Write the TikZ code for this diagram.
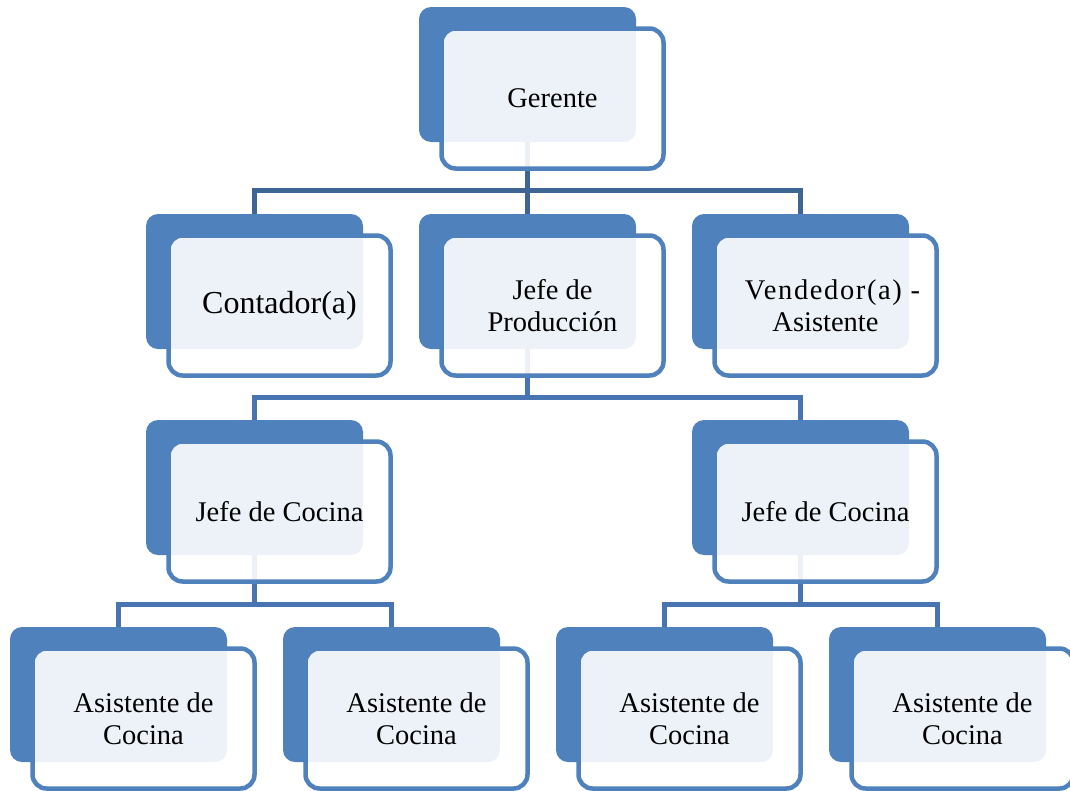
\documentclass[tikz,border=0pt]{standalone}
\usepackage{fontspec}
\setmainfont{Liberation Serif}
\usepackage{tikz}

\definecolor{boxblue}{HTML}{4F81BD}
\definecolor{linedark}{HTML}{3E6694}
\definecolor{lineblue}{HTML}{4875B1}

\begin{document}
\begin{tikzpicture}[x=1pt,y=-1pt]
  \tikzset{BackStyle/.style = {
    shape          = rectangle,
    draw           = none,
    fill           = boxblue,
    rounded corners = 12pt,
    minimum width  = 217pt,
    minimum height = 135pt,
    inner sep      = 0pt,
    outer sep      = 0pt
    }
  }
  \tikzset{FrontStyle/.style = {
    shape          = rectangle,
    draw           = boxblue,
    line width     = 4.5pt,
    fill           = white,
    fill opacity   = 0.9,
    text opacity   = 1,
    text           = black,
    rounded corners = 14pt,
    minimum width  = 222pt,
    minimum height = 140pt,
    inner sep      = 0pt,
    outer sep      = 0pt,
    align          = center,
    font           = \fontsize{28.5}{31.5}\selectfont
    }
  }
  \tikzset{EdgeStyle/.style = {
    draw           = lineblue,
    line width     = 5pt
    }
  }
  \tikzset{TopEdgeStyle/.style = {
    EdgeStyle,
    draw           = linedark
    }
  }

  \useasboundingbox (0,0) rectangle (1070,790);

	\node[BackStyle](A1) at (527.5, 74.5) {};
	\node[BackStyle](B1) at (254.5, 281.5) {};
	\node[BackStyle](B2) at (527.5, 281.5) {};
	\node[BackStyle](B3) at (800.5, 281.5) {};
	\node[BackStyle](C1) at (254.5, 487.5) {};
	\node[BackStyle](C2) at (800.5, 487.5) {};
	\node[BackStyle](D1) at (118.5, 694.5) {};
	\node[BackStyle](D2) at (391.5, 694.5) {};
	\node[BackStyle](D3) at (664.5, 694.5) {};
	\node[BackStyle](D4) at (937.5, 694.5) {};

	\draw[TopEdgeStyle](A1.south) |- ([yshift=24pt]B1.north) -- (B1.north);
	\draw[TopEdgeStyle](A1.south) -- (B2.north);
	\draw[TopEdgeStyle](A1.south) |- ([yshift=24pt]B3.north) -- (B3.north);
	\draw[EdgeStyle](B2.south) |- ([yshift=23pt]C1.north) -- (C1.north);
	\draw[EdgeStyle](B2.south) |- ([yshift=23pt]C2.north) -- (C2.north);
	\draw[EdgeStyle](C1.south) |- ([yshift=23pt]D1.north) -- (D1.north);
	\draw[EdgeStyle](C1.south) |- ([yshift=23pt]D2.north) -- (D2.north);
	\draw[EdgeStyle](C2.south) |- ([yshift=23pt]D3.north) -- (D3.north);
	\draw[EdgeStyle](C2.south) |- ([yshift=23pt]D4.north) -- (D4.north);

	\node[FrontStyle](A1t) at (552.5, 98.5) {Gerente};
	\node[FrontStyle,font=\fontsize{32}{35}\selectfont](B1t) at (279.5, 305.5) {Contador(a)};
	\node[FrontStyle](B2t) at (552.5, 305.5) {Jefe de\\Producción};
	\node[FrontStyle](B3t) at (825.5, 305.5)
	  {\hspace*{14pt}{\addfontfeature{LetterSpace=5.7}Vendedor(a) -}\\Asistente};
	\node[FrontStyle](C1t) at (279.5, 511.5) {Jefe de Cocina};
	\node[FrontStyle](C2t) at (825.5, 511.5) {Jefe de Cocina};
	\node[FrontStyle](D1t) at (143.5, 718.5) {Asistente de\\Cocina};
	\node[FrontStyle](D2t) at (416.5, 718.5) {Asistente de\\Cocina};
	\node[FrontStyle](D3t) at (689.5, 718.5) {Asistente de\\Cocina};
	\node[FrontStyle](D4t) at (962.5, 718.5) {Asistente de\\Cocina};

\end{tikzpicture}
\end{document}
